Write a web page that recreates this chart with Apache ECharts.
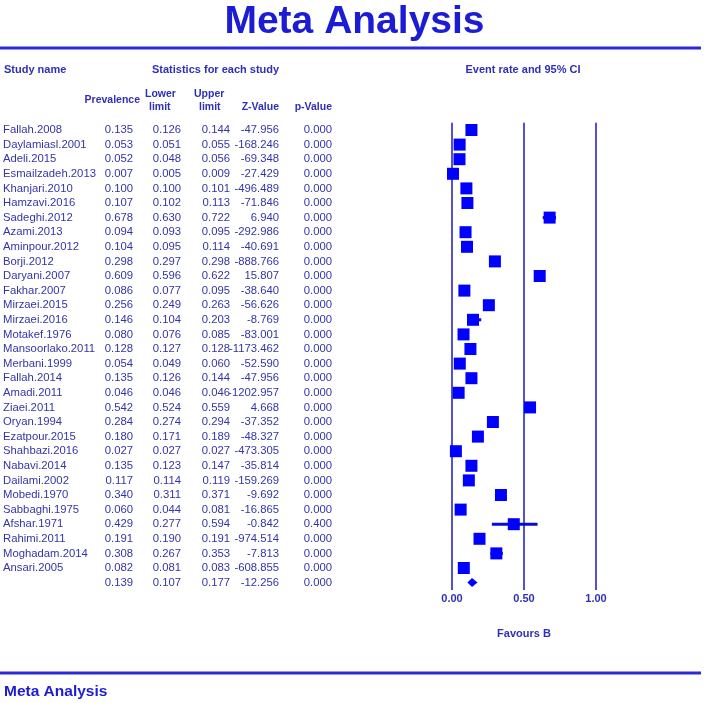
<!DOCTYPE html>
<html>
<head>
<meta charset="utf-8">
<script src="https://cdn.jsdelivr.net/npm/echarts@6/dist/echarts.min.js"></script>
<style>
html,body{margin:0;padding:0;background:#fff;}
#chart{width:709px;height:703px;}
</style>
</head>
<body>
<div id="chart"></div>
<script>
const studies = ['Fallah.2008','Daylamiasl.2001','Adeli.2015','Esmailzadeh.2013','Khanjari.2010','Hamzavi.2016','Sadeghi.2012','Azami.2013','Aminpour.2012','Borji.2012','Daryani.2007','Fakhar.2007','Mirzaei.2015','Mirzaei.2016','Motakef.1976','Mansoorlako.2011','Merbani.1999','Fallah.2014','Amadi.2011','Ziaei.2011','Oryan.1994','Ezatpour.2015','Shahbazi.2016','Nabavi.2014','Dailami.2002','Mobedi.1970','Sabbaghi.1975','Afshar.1971','Rahimi.2011','Moghadam.2014','Ansari.2005',''];
const prevalence = [0.135,0.053,0.052,0.007,0.100,0.107,0.678,0.094,0.104,0.298,0.609,0.086,0.256,0.146,0.080,0.128,0.054,0.135,0.046,0.542,0.284,0.180,0.027,0.135,0.117,0.340,0.060,0.429,0.191,0.308,0.082,0.139];
const lowerLimit = [0.126,0.051,0.048,0.005,0.100,0.102,0.630,0.093,0.095,0.297,0.596,0.077,0.249,0.104,0.076,0.127,0.049,0.126,0.046,0.524,0.274,0.171,0.027,0.123,0.114,0.311,0.044,0.277,0.190,0.267,0.081,0.107];
const upperLimit = [0.144,0.055,0.056,0.009,0.101,0.113,0.722,0.095,0.114,0.298,0.622,0.095,0.263,0.203,0.085,0.128,0.060,0.144,0.046,0.559,0.294,0.189,0.027,0.147,0.119,0.371,0.081,0.594,0.191,0.353,0.083,0.177];
const zValue = [-47.956,-168.246,-69.348,-27.429,-496.489,-71.846,6.940,-292.986,-40.691,-888.766,15.807,-38.640,-56.626,-8.769,-83.001,-1173.462,-52.590,-47.956,-1202.957,4.668,-37.352,-48.327,-473.305,-35.814,-159.269,-9.692,-16.865,-0.842,-974.514,-7.813,-608.855,-12.256];
const pValue = [0.000,0.000,0.000,0.000,0.000,0.000,0.000,0.000,0.000,0.000,0.000,0.000,0.000,0.000,0.000,0.000,0.000,0.000,0.000,0.000,0.000,0.000,0.000,0.000,0.000,0.000,0.000,0.400,0.000,0.000,0.000,0.000];
const xTicks = [0, 0.5, 1];
const xTickLabels = ['0.00','0.50','1.00'];

const TXT = '#3434a8';
const HDR = '#2f2fb8';
const FONT = '"Liberation Sans", Arial, sans-serif';
const GL = 452, GW = 144;

function colAxis(offset, fmt, align) {
  return {
    type: 'category', data: studies, inverse: true, gridIndex: 0, position: 'left',
    offset: offset,
    axisLine: {show: false}, axisTick: {show: false}, splitLine: {show: false},
    axisLabel: {margin: 0, align: align || 'right', color: TXT, fontSize: 11.3, fontFamily: FONT,
      formatter: fmt, interval: 0}
  };
}

const chart = echarts.init(document.getElementById('chart'), null, {renderer: 'canvas'});
const seriesData = prevalence.map((p, i) => [p, i, lowerLimit[i], upperLimit[i]]);
const last = prevalence.length - 1;

chart.setOption({
  animation: false,
  backgroundColor: '#fff',
  title: {
    text: 'Meta Analysis', left: 'center', top: -2,
    textStyle: {fontSize: 39, fontWeight: 'bold', color: '#1c1cd4', fontFamily: FONT}
  },
  grid: {left: GL, width: GW, top: 122.7, height: 467.2, containLabel: false},
  xAxis: {
    type: 'value', min: 0, max: 1, interval: 0.5,
    axisLine: {show: false}, axisTick: {show: false},
    splitLine: {show: true, lineStyle: {color: '#5252cc', width: 2}},
    axisLabel: {margin: 4, color: HDR, fontSize: 11, fontWeight: 'bold', fontFamily: FONT,
      formatter: v => xTickLabels[xTicks.indexOf(v)]},
    name: 'Favours B', nameLocation: 'middle', nameGap: 39,
    nameTextStyle: {color: HDR, fontSize: 11, fontWeight: 'bold', fontFamily: FONT}
  },
  yAxis: [
    colAxis(449, (v, i) => studies[i], 'left'),
    colAxis(319, (v, i) => prevalence[i].toFixed(3)),
    colAxis(271, (v, i) => lowerLimit[i].toFixed(3)),
    colAxis(222, (v, i) => upperLimit[i].toFixed(3)),
    colAxis(173, (v, i) => zValue[i].toFixed(3)),
    colAxis(120, (v, i) => pValue[i].toFixed(3))
  ],
  series: [{
    type: 'custom',
    xAxisIndex: 0, yAxisIndex: 0,
    encode: {x: [0, 2, 3], y: 1},
    data: seriesData,
    renderItem: function (params, api) {
      const y = api.value(1);
      const p = api.coord([api.value(0), y]);
      const lo = api.coord([api.value(2), y]);
      const hi = api.coord([api.value(3), y]);
      if (params.dataIndex === last) {
        return {
          type: 'polygon',
          shape: {points: [[lo[0], p[1]], [p[0], p[1] - 4.5], [hi[0], p[1]], [p[0], p[1] + 4.5]]},
          style: {fill: '#0000ff'}
        };
      }
      return {
        type: 'group',
        children: [
          {type: 'line', shape: {x1: lo[0], y1: p[1], x2: hi[0], y2: p[1]},
           style: {stroke: '#0808e0', lineWidth: 3}},
          {type: 'rect', shape: {x: p[0] - 6, y: p[1] - 6, width: 12, height: 12},
           style: {fill: '#0000ff'}}
        ]
      };
    }
  }],
  graphic: [
    {type: 'line', shape: {x1: 0, y1: 48, x2: 701, y2: 48}, style: {stroke: '#2a2ad8', lineWidth: 3}},
    {type: 'line', shape: {x1: 0, y1: 673, x2: 701, y2: 673}, style: {stroke: '#2a2ad8', lineWidth: 3}},
    {type: 'text', x: 4, y: 70, style: {text: 'Study name', fill: HDR, font: 'bold 11px ' + FONT, textVerticalAlign: 'middle'}},
    {type: 'text', x: 152, y: 70, style: {text: 'Statistics for each study', fill: HDR, font: 'bold 11px ' + FONT, textVerticalAlign: 'middle'}},
    {type: 'text', x: 523, y: 70, style: {text: 'Event rate and 95% CI', fill: HDR, font: 'bold 11px ' + FONT, textAlign: 'center', textVerticalAlign: 'middle'}},
    {type: 'text', x: 140, y: 100, style: {text: 'Prevalence', fill: HDR, font: 'bold 10.5px ' + FONT, textAlign: 'right', textVerticalAlign: 'middle'}},
    {type: 'text', x: 145, y: 94, style: {text: 'Lower', fill: HDR, font: 'bold 10.5px ' + FONT, textVerticalAlign: 'middle'}},
    {type: 'text', x: 149, y: 107, style: {text: 'limit', fill: HDR, font: 'bold 10.5px ' + FONT, textVerticalAlign: 'middle'}},
    {type: 'text', x: 194, y: 94, style: {text: 'Upper', fill: HDR, font: 'bold 10.5px ' + FONT, textVerticalAlign: 'middle'}},
    {type: 'text', x: 199, y: 107, style: {text: 'limit', fill: HDR, font: 'bold 10.5px ' + FONT, textVerticalAlign: 'middle'}},
    {type: 'text', x: 279, y: 107, style: {text: 'Z-Value', fill: HDR, font: 'bold 10.5px ' + FONT, textAlign: 'right', textVerticalAlign: 'middle'}},
    {type: 'text', x: 332, y: 107, style: {text: 'p-Value', fill: HDR, font: 'bold 10.5px ' + FONT, textAlign: 'right', textVerticalAlign: 'middle'}},
    {type: 'text', x: 4, y: 692, style: {text: 'Meta Analysis', fill: '#1c1cd4', font: 'bold 15.5px ' + FONT, textVerticalAlign: 'middle'}}
  ]
});
</script>
</body>
</html>
